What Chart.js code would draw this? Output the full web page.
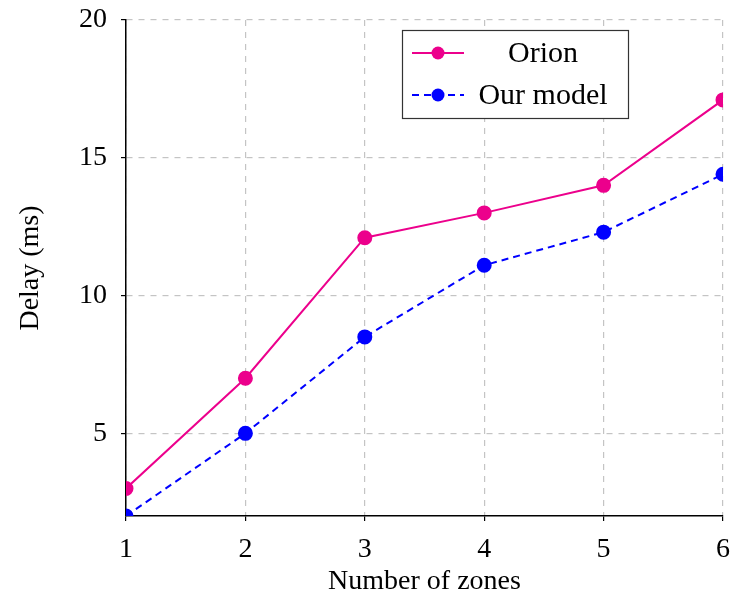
<!DOCTYPE html>
<html lang="en">
  <head>
    <meta charset="UTF-8">
    <title>Delay vs zones</title>
    <script src="https://cdn.jsdelivr.net/npm/chart.js"></script>
    <style>
      body { margin: 0; background: #fff; }
      #wrap { width: 735px; height: 603px; }
    </style>
  </head>
  <body>
    <div id="wrap"><canvas id="delayChart"></canvas></div>
    <script>
      var zones = [1, 2, 3, 4, 5, 6];
      var orionDelay = [3.0, 7.0, 12.1, 13.0, 14.0, 17.1];
      var ourDelay = [2.0, 5.0, 8.5, 11.1, 12.3, 14.4];
      var yTicks = [5, 10, 15, 20];

      var serif = '"Liberation Serif", "Times New Roman", serif';

      // legend box drawn inside the plot like pgfplots does
      var boxLegend = {
        id: 'boxLegend',
        afterDraw: function(chart) {
          var ctx = chart.ctx;
          var x0 = 402, y0 = 30, w = 226, h = 88;
          ctx.save();
          ctx.fillStyle = '#fff';
          ctx.fillRect(x0, y0, w, h);
          ctx.strokeStyle = '#333';
          ctx.lineWidth = 1.2;
          ctx.strokeRect(x0 + 0.5, y0 + 0.5, w, h);
          chart.data.datasets.forEach(function(ds, i) {
            var cy = y0 + 23 + i * 42;
            ctx.strokeStyle = ds.borderColor;
            ctx.lineWidth = 2;
            ctx.setLineDash(ds.borderDash || []);
            ctx.beginPath();
            ctx.moveTo(x0 + 10, cy);
            ctx.lineTo(x0 + 62, cy);
            ctx.stroke();
            ctx.setLineDash([]);
            ctx.fillStyle = ds.pointBackgroundColor;
            ctx.beginPath();
            ctx.arc(x0 + 36, cy, 6.5, 0, Math.PI * 2);
            ctx.fill();
            ctx.fillStyle = '#000';
            ctx.font = '30px ' + serif;
            ctx.textAlign = 'center';
            ctx.textBaseline = 'middle';
            ctx.fillText(ds.label, x0 + 141, cy + 1);
          });
          ctx.restore();
        }
      };

      var ctx = document.getElementById('delayChart').getContext('2d');
      new Chart(ctx, {
        type: 'line',
        data: {
          datasets: [
            {
              label: 'Orion',
              data: zones.map(function(z, i) { return { x: z, y: orionDelay[i] }; }),
              borderColor: '#ec008c',
              backgroundColor: '#ec008c',
              pointBackgroundColor: '#ec008c',
              pointBorderColor: '#ec008c',
              pointRadius: 6.5,
              borderWidth: 2,
              tension: 0
            },
            {
              label: 'Our model',
              data: zones.map(function(z, i) { return { x: z, y: ourDelay[i] }; }),
              borderColor: '#0000ff',
              backgroundColor: '#0000ff',
              pointBackgroundColor: '#0000ff',
              pointBorderColor: '#0000ff',
              pointRadius: 6.5,
              borderWidth: 2,
              borderDash: [7, 5],
              tension: 0
            }
          ]
        },
        options: {
          responsive: true,
          maintainAspectRatio: false,
          animation: false,
          layout: { padding: { left: 0, right: 12, top: 20, bottom: 0 } },
          plugins: {
            legend: { display: false },
            tooltip: { enabled: false }
          },
          scales: {
            x: {
              type: 'linear',
              min: 1,
              max: 6,
              afterFit: function(scale) {
                scale.height = 87;
                scale.paddingLeft = 0;
                scale.paddingRight = 0;
              },
              ticks: { stepSize: 1, color: '#000', padding: 12, font: { family: serif, size: 28 } },
              grid: { color: '#c4c4c4', lineWidth: 1.2, tickLength: 5, tickColor: '#000' },
              border: { color: '#000', width: 1.5, dash: [6, 6] },
              title: { display: true, text: 'Number of zones', color: '#000', padding: { top: 0, bottom: 5 }, font: { family: serif, size: 28 } }
            },
            y: {
              min: 2,
              max: 20,
              afterFit: function(scale) {
                scale.width = 126;
                scale.paddingTop = 0;
                scale.paddingBottom = 0;
              },
              afterBuildTicks: function(scale) { scale.ticks = yTicks.map(function(v) { return { value: v }; }); },
              ticks: { color: '#000', padding: 14, font: { family: serif, size: 28 } },
              grid: { color: '#c4c4c4', lineWidth: 1.2, tickLength: 5, tickColor: '#000' },
              border: { color: '#000', width: 1.5, dash: [6, 6] },
              title: { display: true, text: 'Delay (ms)', color: '#000', padding: { top: 14, bottom: 0 }, font: { family: serif, size: 28 } }
            }
          }
        },
        plugins: [boxLegend]
      });
    </script>
  </body>
</html>
